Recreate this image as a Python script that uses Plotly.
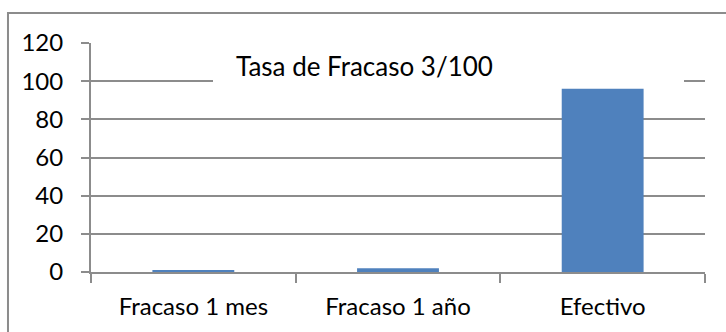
import plotly.graph_objects as go

# Chart data
categories = ["Fracaso 1 mes", "Fracaso 1 año", "Efectivo"]
values = [1, 2, 96]
y_ticks = [0, 20, 40, 60, 80, 100, 120]
title_text = "Tasa de Fracaso 3/100"

GRAY = "#8c8c8c"
BLUE = "#4f81bd"
FONT = "Lato, Carlito, Calibri, sans-serif"

fig = go.Figure(
    go.Bar(
        x=categories,
        y=values,
        marker=dict(color=BLUE, line=dict(width=0)),
        width=0.4,
    )
)

fig.update_layout(
    width=726,
    height=332,
    margin=dict(l=91, r=21, t=43, b=60),
    paper_bgcolor="white",
    plot_bgcolor="white",
    showlegend=False,
    font=dict(family=FONT, size=24, color="black"),
    bargap=0.6,
)

fig.update_yaxes(
    range=[0, 120],
    tickvals=y_ticks,
    showgrid=True,
    gridcolor=GRAY,
    gridwidth=2,
    showline=True,
    linecolor=GRAY,
    linewidth=2,
    ticks="outside",
    ticklen=8,
    tickwidth=2,
    tickcolor=GRAY,
    ticklabelstandoff=13,
    zeroline=False,
    fixedrange=True,
)

fig.update_xaxes(
    showgrid=False,
    showline=True,
    linecolor=GRAY,
    linewidth=2,
    ticks="outside",
    tickson="boundaries",
    ticklen=9,
    tickwidth=2,
    tickcolor=GRAY,
    ticklabelstandoff=12,
    fixedrange=True,
)

# White box behind the title, hiding the upper gridlines
fig.add_shape(
    type="rect",
    xref="paper", yref="paper",
    x0=0.1987, x1=0.9658, y0=0.812, y1=1.03,
    fillcolor="white", line=dict(width=0),
    layer="above",
)

# Chart area border
fig.add_shape(
    type="rect",
    xref="paper", yref="paper",
    x0=-0.1352, x1=1.05, y0=-0.35, y1=1.131,
    fillcolor="rgba(0,0,0,0)",
    line=dict(color=GRAY, width=2),
    layer="above",
)

fig.add_annotation(
    text=title_text,
    xref="paper", yref="paper",
    x=0.446, y=0.9,
    xanchor="center", yanchor="middle",
    showarrow=False,
    font=dict(family=FONT, size=26, color="black"),
)

fig.write_html("out.html", config=dict(displayModeBar=False))
